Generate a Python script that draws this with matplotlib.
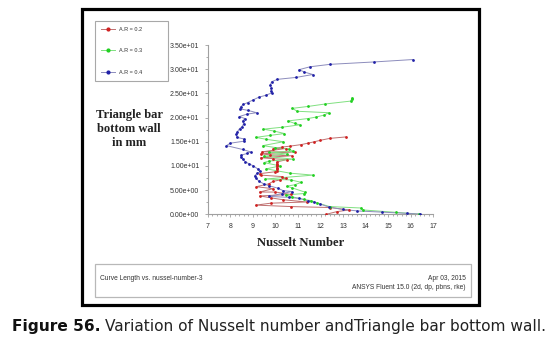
import matplotlib
matplotlib.use('Agg')
import matplotlib.pyplot as plt
from matplotlib.patches import Rectangle
from matplotlib.lines import Line2D
from matplotlib.ticker import MultipleLocator, FuncFormatter

# Nusselt number (x) vs curve length along the triangle bar bottom wall (y, mm)
ar02_nu = [13.14, 12.42, 11.99, 11.73, 11.44, 11.13, 10.66, 10.31, 9.90, 10.45,
           9.40, 10.85, 9.35, 9.75, 10.72, 9.35, 9.90, 10.50, 10.05, 10.05,
           10.05, 10.05, 10.05, 10.05, 10.05, 10.00, 9.30, 9.35, 10.30, 10.45,
           10.20, 9.90, 9.70, 9.15, 9.90, 9.30, 10.00, 10.70, 9.30, 9.80,
           10.35, 11.40, 9.80, 9.13, 10.68, 12.42, 13.28, 12.72, 12.25]
ar02_len = [16.0, 15.7, 15.3, 15.0, 14.7, 14.4, 14.1, 13.9, 13.6, 13.6,
            12.9, 12.9, 12.5, 12.3, 12.1, 11.7, 11.5, 11.3, 10.8, 10.5,
            10.2, 9.9, 9.6, 9.3, 9.0, 8.8, 8.4, 8.1, 7.8, 7.5,
            7.1, 6.8, 6.3, 5.7, 5.3, 4.6, 4.6, 4.1, 3.8, 3.4,
            3.0, 2.55, 2.3, 1.9, 1.6, 1.4, 0.9, 0.55, 0.0]

ar03_nu = [13.40, 13.38, 13.33, 12.20, 11.45, 10.75, 10.97, 12.37, 12.15, 11.80,
           11.45, 10.55, 10.85, 11.08, 10.30, 9.47, 9.95, 10.40, 9.75, 9.13,
           9.60, 10.35, 9.45, 10.00, 10.60, 10.80, 9.70, 10.50, 9.50, 10.80,
           9.70, 9.50, 10.20, 9.60, 10.65, 11.68, 9.55, 10.70, 11.15, 10.85,
           10.50, 10.72, 11.30, 11.28, 10.45, 10.75, 11.25, 11.60, 11.83, 12.40,
           13.80, 13.88, 15.35, 16.35]
ar03_len = [24.1, 23.8, 23.4, 22.8, 22.3, 21.9, 21.3, 21.0, 20.5, 20.1,
            19.8, 19.3, 18.8, 18.5, 18.0, 17.6, 17.2, 16.7, 16.3, 15.9,
            15.5, 15.0, 14.2, 13.8, 13.5, 13.0, 12.8, 12.5, 12.0, 11.4,
            11.0, 10.7, 10.0, 9.4, 8.5, 8.1, 7.3, 7.1, 6.6, 6.1,
            5.8, 5.5, 4.6, 4.3, 4.0, 3.6, 3.1, 2.8, 2.4, 1.6,
            1.3, 0.9, 0.4, 0.05]

ar04_nu = [16.12, 14.39, 12.42, 11.54, 11.05, 11.29, 11.66, 10.92, 10.09, 9.83,
           9.78, 9.81, 9.81, 9.84, 9.57, 9.26, 8.99, 8.77, 8.57, 8.46,
           8.42, 8.77, 9.17, 8.73, 8.40, 8.65, 8.55, 8.59, 8.52, 8.41,
           8.32, 8.27, 8.29, 8.59, 8.59, 8.00, 7.83, 8.55, 8.90, 8.75,
           8.48, 8.48, 8.55, 8.66, 8.85, 9.03, 9.24, 9.32, 9.20, 9.09,
           9.12, 9.29, 9.48, 9.72, 10.11, 10.34, 10.74, 10.30, 9.72, 10.60,
           11.05, 11.44, 11.71, 11.99, 12.38, 12.98, 13.64, 14.71, 15.84, 16.39]
ar04_len = [32.0, 31.5, 31.0, 30.5, 29.9, 29.4, 28.9, 28.3, 27.9, 27.4,
            26.8, 26.2, 25.5, 25.1, 24.6, 24.2, 23.6, 23.1, 22.7, 22.2,
            21.8, 21.5, 21.0, 20.7, 20.2, 19.8, 19.3, 18.7, 18.1, 17.7,
            17.1, 16.5, 15.9, 15.6, 15.1, 14.7, 14.2, 13.4, 12.9, 12.6,
            12.2, 11.8, 11.4, 10.9, 10.4, 10.0, 9.3, 8.85, 8.5, 8.0,
            7.5, 6.8, 6.3, 5.9, 5.4, 4.9, 4.7, 4.3, 3.7, 3.5,
            3.3, 2.8, 2.5, 2.1, 1.5, 1.0, 0.7, 0.45, 0.2, 0.05]

labels = ['A.R = 0.2', 'A.R = 0.3', 'A.R = 0.4']

W, H = 554, 344


def fx(px):
    return px / W


def fy(py):
    return 1 - py / H


fig = plt.figure(figsize=(W / 100, H / 100), dpi=100)

# outer black frame and the bottom info box
fig.add_artist(Rectangle((fx(81.5), fy(305)), (479 - 81.5) / W, (305 - 8.5) / H,
                         fill=False, ec='black', lw=2.3, transform=fig.transFigure))
fig.add_artist(Rectangle((fx(95), fy(296.7)), (470.8 - 95) / W, (296.7 - 263.5) / H,
                         fill=False, ec='#b8b8b8', lw=0.9, transform=fig.transFigure))

ax = fig.add_axes([fx(207.7), fy(214.3), 225.6 / W, 169.3 / H])
series = [
    (ar02_nu, ar02_len, '#d02020', '#c07070'),
    (ar03_nu, ar03_len, '#20d020', '#80e080'),
    (ar04_nu, ar04_len, '#2020a8', '#8c8cbc'),
]
handles = []
for (xs, ys, mc, lc), lab in zip(series, labels):
    ax.plot(xs, ys, color=lc, lw=0.7, zorder=2)
    ax.plot(xs, ys, 'o', color=mc, ms=2.0, mew=0, zorder=3)
    handles.append(Line2D([], [], color=lc, lw=0.7, marker='o', ms=2.0,
                          mfc=mc, mec=mc, markevery=[1]))

ax.set_xlim(7, 17)
ax.set_ylim(0, 35)
ax.xaxis.set_major_locator(MultipleLocator(1))
ax.xaxis.set_minor_locator(MultipleLocator(0.2))
ax.yaxis.set_major_locator(MultipleLocator(5))
ax.yaxis.set_minor_locator(MultipleLocator(2.5))
ax.yaxis.set_major_formatter(FuncFormatter(lambda v, p: '{:.2e}'.format(v)))
for s in ['top', 'right']:
    ax.spines[s].set_visible(False)
for s in ['left', 'bottom']:
    ax.spines[s].set_color('#a0a0a0')
    ax.spines[s].set_linewidth(0.8)
ax.tick_params(which='both', colors='#a0a0a0', labelcolor='#333333',
               labelsize=5, width=0.6)
ax.tick_params(which='major', length=2.5)
ax.tick_params(which='minor', length=1.5)
ax.tick_params(axis='y', pad=3.5)
ax.tick_params(axis='x', pad=4)
for t in ax.get_xticklabels() + ax.get_yticklabels():
    t.set_fontfamily('Liberation Sans')

ax.set_xlabel('Nusselt Number', fontfamily='Liberation Serif', fontweight='bold',
              fontsize=9.1, color='#222222')
ax.xaxis.set_label_coords((300.5 - 207.7) / 225.6, (214.3 - 243) / 169.3)
ax.xaxis.label.set_va('center')
ax.set_ylabel('Triangle bar\nbottom wall\nin mm', fontfamily='Liberation Serif',
              fontweight='bold', fontsize=9.0, color='#222222', rotation=0,
              ha='center', va='center', linespacing=1.22)
ax.yaxis.set_label_coords((129 - 207.7) / 225.6, (214.3 - 129) / 169.3)

leg = ax.legend(handles, labels, loc='upper left',
                bbox_to_anchor=(fx(95), fy(85.7), 73 / W, 65 / H),
                bbox_transform=fig.transFigure, mode='expand', borderaxespad=0,
                fontsize=4, handlelength=2.5, handletextpad=0.75,
                borderpad=1.1, labelspacing=2.95, fancybox=False,
                edgecolor='#a8a8a8', framealpha=1)
leg.get_frame().set_linewidth(0.8)
for t in leg.get_texts():
    t.set_fontfamily('Liberation Sans')
    t.set_color('#333333')

info = dict(fontfamily='Liberation Sans', fontsize=4.8, color='#333333', va='center')
fig.text(fx(99.8), fy(279), 'Curve Length vs. nussel-number-3', ha='left', **info)
fig.text(fx(465.8), fy(279), 'Apr 03, 2015', ha='right', **info)
fig.text(fx(465.8), fy(287.4), 'ANSYS Fluent 15.0 (2d, dp, pbns, rke)', ha='right', **info)

# caption: bold figure number followed by regular text
cap1 = fig.text(fx(12), fy(326), 'Figure 56.', fontfamily='DejaVu Sans',
                fontweight='bold', fontsize=11.1, color='#111111', va='center')
fig.canvas.draw()
bb = cap1.get_window_extent()
fig.text(bb.x1 / W + 4 / W, fy(326), 'Variation of Nusselt number andTriangle bar bottom wall.',
         fontfamily='DejaVu Sans', fontsize=11.1, color='#222222', va='center')

fig.savefig('out.png', dpi=100)
